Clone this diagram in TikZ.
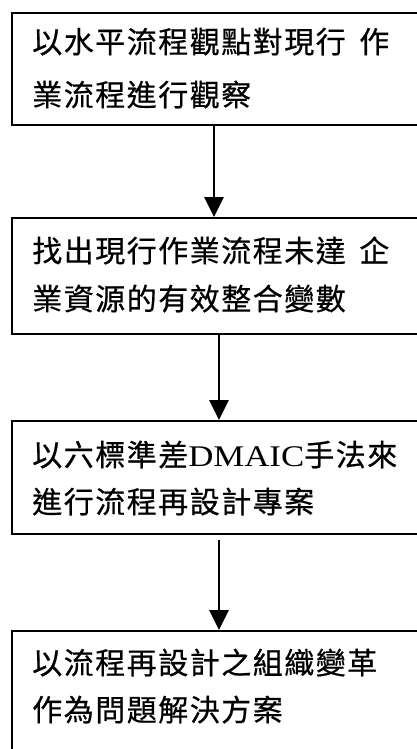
\documentclass[tikz,border=0pt]{standalone}
\usepackage{fontspec}
\usetikzlibrary{arrows.meta}
\newfontfamily\cjk[LetterSpace=5,FakeBold=0.6]{Noto Sans CJK TC}
\newfontfamily\tms{Liberation Serif}
\newcommand\dmaic{{\tms\fontsize{22.5pt}{27pt}\selectfont\scalebox{1.16}[1]{DMAIC}}}
\newcommand\gap{\hspace{4pt}}
\begin{document}
\begin{tikzpicture}[x=0.75pt,y=-0.75pt,
  box/.style={draw=black,line width=1.3pt,anchor=north west,inner sep=0pt,
    minimum width={419*0.75pt}},
  txt/.style={anchor=base west,inner sep=0pt,font=\cjk\fontsize{22.5pt}{27pt}\selectfont},
  arr/.style={draw=black,line width=1.3pt,-{Triangle[width=14.5pt,length=15pt]}}]
\useasboundingbox (0,0) rectangle (417,749);
% boxes
\node[box,minimum width={409*0.75pt},minimum height={112*0.75pt}] (b1) at (11,12) {};
\node[box,minimum height={116*0.75pt}] (b2) at (11,217) {};
\node[box,minimum height={113*0.75pt}] (b3) at (11,420) {};
\node[box,minimum height={140*0.75pt}] (b4) at (11,630) {};
% texts
\node[txt] (t1a) at (32,53) {以水平流程觀點對現行 \gap{}作};
\node[txt] (t1b) at (32,106) {業流程進行觀察};
\node[txt] (t2a) at (32,262) {找出現行作業流程未達 \gap{}企};
\node[txt] (t2b) at (32,310) {業資源的有效整合變數};
\node[txt] (t3a) at (32,466) {以六標準差\dmaic{}手法來};
\node[txt] (t3b) at (32,513) {進行流程再設計專案};
\node[txt] (t4a) at (32,674) {以流程再設計之組織變革};
\node[txt] (t4b) at (32,721) {作為問題解決方案};
% connectors
\coordinate (c1) at (214,0);
\coordinate (c2) at (219,0);
\coordinate (s3) at (219,540);
\draw[arr] (b1.south -| c1) -- (b2.north -| c1);
\draw[arr] (b2.south -| c2) -- (b3.north -| c2);
\draw[arr] (s3) -- (b4.north -| s3);
\end{tikzpicture}
\end{document}
